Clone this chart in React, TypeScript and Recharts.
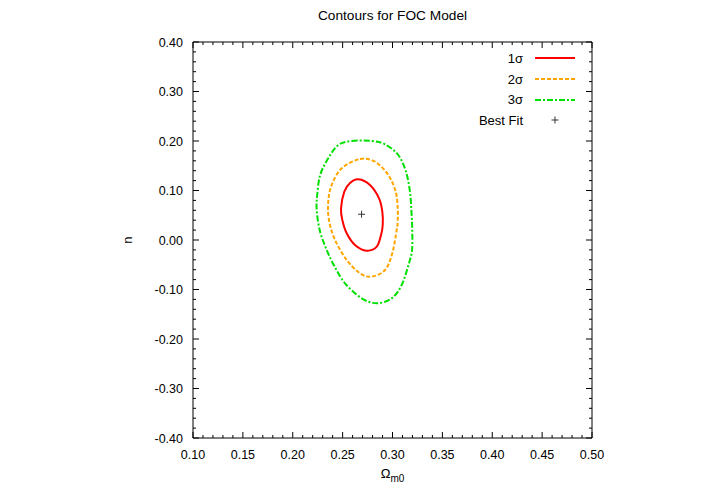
import React from 'react';
import { ScatterChart, Scatter, XAxis, YAxis, Legend, Label } from 'recharts';

// axis ticks (labelled majors); minors are every fifth between them
const xMajor = [0.1, 0.15, 0.2, 0.25, 0.3, 0.35, 0.4, 0.45, 0.5];
const yMajor = [-0.4, -0.3, -0.2, -0.1, 0.0, 0.1, 0.2, 0.3, 0.4];

// contour points (Omega_m0, n), closed loops
const sigma1 = [
  { x: 0.2657, y: 0.1226 }, { x: 0.2774, y: 0.1111 }, { x: 0.2865, y: 0.0842 },
  { x: 0.2898, y: 0.0572 }, { x: 0.2902, y: 0.0303 }, { x: 0.2885, y: 0.0101 },
  { x: 0.2842, y: -0.0135 }, { x: 0.2741, y: -0.0216 }, { x: 0.2624, y: -0.0101 },
  { x: 0.2541, y: 0.0135 }, { x: 0.2497, y: 0.0404 }, { x: 0.2484, y: 0.064 },
  { x: 0.2517, y: 0.0976 }, { x: 0.2574, y: 0.1152 }, { x: 0.2657, y: 0.1226 },
];

const sigma2 = [
  { x: 0.2674, y: 0.1636 }, { x: 0.2825, y: 0.1582 }, { x: 0.2958, y: 0.1313 },
  { x: 0.3032, y: 0.0976 }, { x: 0.3052, y: 0.064 }, { x: 0.3052, y: 0.037 },
  { x: 0.3042, y: 0.0202 }, { x: 0.2998, y: -0.0269 }, { x: 0.2925, y: -0.0606 },
  { x: 0.2791, y: -0.0741 }, { x: 0.2674, y: -0.0673 }, { x: 0.2541, y: -0.0404 },
  { x: 0.2424, y: 0.0 }, { x: 0.2363, y: 0.0404 }, { x: 0.2356, y: 0.0774 },
  { x: 0.239, y: 0.1111 }, { x: 0.2491, y: 0.1448 }, { x: 0.2674, y: 0.1636 },
];

const sigma3 = [
  { x: 0.2591, y: 0.2 }, { x: 0.2792, y: 0.2 }, { x: 0.2925, y: 0.1933 },
  { x: 0.3058, y: 0.1717 }, { x: 0.3135, y: 0.138 }, { x: 0.3175, y: 0.0976 },
  { x: 0.319, y: 0.0572 }, { x: 0.3198, y: 0.0202 }, { x: 0.3196, y: -0.0202 },
  { x: 0.3165, y: -0.0471 }, { x: 0.3092, y: -0.0909 }, { x: 0.2992, y: -0.1178 },
  { x: 0.2842, y: -0.1279 }, { x: 0.2691, y: -0.1178 }, { x: 0.2524, y: -0.0875 },
  { x: 0.241, y: -0.05 }, { x: 0.233, y: -0.015 }, { x: 0.227, y: 0.0202 },
  { x: 0.224, y: 0.0606 }, { x: 0.2245, y: 0.0909 }, { x: 0.2275, y: 0.1313 },
  { x: 0.2356, y: 0.1651 }, { x: 0.2457, y: 0.1919 }, { x: 0.2591, y: 0.2 },
];

const bestFit = [{ x: 0.269, y: 0.052 }];

const FONT = '"Liberation Sans", Arial, Helvetica, sans-serif';

const contours = [
  { name: '1σ', data: sigma1, color: '#ff0000', dash: undefined },
  { name: '2σ', data: sigma2, color: '#ffa500', dash: '4 2' },
  { name: '3σ', data: sigma3, color: '#00e000', dash: '6 2 2 2' },
];

const withMinors = (majors: number[]) => {
  const out: number[] = [];
  for (let i = 0; i < majors.length - 1; i++) {
    const step = (majors[i + 1] - majors[i]) / 5;
    for (let k = 0; k < 5; k++) out.push(Math.round((majors[i] + k * step) * 1000) / 1000);
  }
  out.push(majors[majors.length - 1]);
  return out;
};

const xTicks = withMinors(xMajor);
const yTicks = withMinors(yMajor);

const isMajor = (majors: number[], v: number) => majors.some((m) => Math.abs(m - v) < 1e-6);
const fmt = (v: number) => (Math.abs(v) < 1e-9 ? 0 : v).toFixed(2);

// smooth closed path through the scaled points (Catmull-Rom)
const closedPath = (pts: { x: number; y: number }[]) => {
  let p = pts;
  const a = p[0];
  const b = p[p.length - 1];
  if (p.length > 2 && Math.abs(a.x - b.x) < 0.01 && Math.abs(a.y - b.y) < 0.01) p = p.slice(0, -1);
  const n = p.length;
  let d = `M${p[0].x},${p[0].y}`;
  for (let i = 0; i < n; i++) {
    const p0 = p[(i - 1 + n) % n];
    const p1 = p[i];
    const p2 = p[(i + 1) % n];
    const p3 = p[(i + 2) % n];
    const c1x = p1.x + (p2.x - p0.x) / 6;
    const c1y = p1.y + (p2.y - p0.y) / 6;
    const c2x = p2.x - (p3.x - p1.x) / 6;
    const c2y = p2.y - (p3.y - p1.y) / 6;
    d += ` C${c1x},${c1y} ${c2x},${c2y} ${p2.x},${p2.y}`;
  }
  return d + ' Z';
};

const makeTick = (side: 'bottom' | 'top' | 'left' | 'right', majors: number[]) => (props: any) => {
  const { x, y, payload } = props;
  const v = payload.value;
  const major = isMajor(majors, v);
  const len = major ? 6 : 3;
  let line;
  let label = null;
  if (side === 'bottom') {
    line = <line x1={x} y1={y} x2={x} y2={y - len} stroke="#000" />;
    if (major)
      label = (
        <text x={x} y={y + 21} textAnchor="middle" fontSize={12.5} fontFamily={FONT} fill="#000">
          {fmt(v)}
        </text>
      );
  } else if (side === 'top') {
    line = <line x1={x} y1={y} x2={x} y2={y + len} stroke="#000" />;
  } else if (side === 'left') {
    line = <line x1={x} y1={y} x2={x + len} y2={y} stroke="#000" />;
    if (major)
      label = (
        <text x={x - 10} y={y + 4.5} textAnchor="end" fontSize={12.5} fontFamily={FONT} fill="#000">
          {fmt(v)}
        </text>
      );
  } else {
    line = <line x1={x} y1={y} x2={x - len} y2={y} stroke="#000" />;
  }
  return (
    <g>
      {line}
      {label}
    </g>
  );
};

const Plus = (props: any) => {
  const { cx, cy } = props;
  return (
    <g stroke="#333" strokeWidth={1}>
      <line x1={cx - 3.5} y1={cy} x2={cx + 3.5} y2={cy} />
      <line x1={cx} y1={cy - 3.5} x2={cx} y2={cy + 3.5} />
    </g>
  );
};

const renderLegend = () => (
  <div style={{ fontFamily: FONT, fontSize: 13, color: '#000' }}>
    {contours.map((c) => (
      <div key={c.name} style={{ display: 'flex', alignItems: 'center', height: 20.7 }}>
        <span style={{ width: 70, textAlign: 'right' }}>{c.name}</span>
        <svg width={40} height={10} style={{ marginLeft: 12 }}>
          <line x1={0} y1={5} x2={40} y2={5} stroke={c.color} strokeWidth={2} strokeDasharray={c.dash} />
        </svg>
      </div>
    ))}
    <div style={{ display: 'flex', alignItems: 'center', height: 20.7 }}>
      <span style={{ width: 70, textAlign: 'right' }}>Best Fit</span>
      <svg width={40} height={10} style={{ marginLeft: 12 }}>
        <line x1={16.5} y1={5} x2={23.5} y2={5} stroke="#333" />
        <line x1={20} y1={1.5} x2={20} y2={8.5} stroke="#333" />
      </svg>
    </div>
  </div>
);

const App = () => {
  return (
    <div style={{ position: 'absolute', left: 0, top: 0, width: 712, height: 498, background: '#fff' }}>
      <ScatterChart width={712} height={498} margin={{ top: 41, right: 119, bottom: 0, left: 0 }}>
        <XAxis
          type="number"
          dataKey="x"
          domain={[0.1, 0.5]}
          ticks={xTicks}
          interval={0}
          height={60}
          tickSize={0}
          tickMargin={0}
          tickLine={false}
          axisLine={{ stroke: '#000' }}
          tick={makeTick('bottom', xMajor)}
          allowDataOverflow
        >
          <Label
            content={(p: any) => {
              const vb = p.viewBox;
              return (
                <text x={vb.x + vb.width / 2} y={vb.y + 40} textAnchor="middle" fontFamily={FONT} fill="#000">
                  <tspan fontSize={13}>Ω</tspan>
                  <tspan fontSize={10} dy={4}>m0</tspan>
                </text>
              );
            }}
          />
        </XAxis>
        <XAxis
          xAxisId="top"
          orientation="top"
          type="number"
          dataKey="x"
          domain={[0.1, 0.5]}
          ticks={xTicks}
          interval={0}
          height={1}
          tickSize={0}
          tickMargin={0}
          tickLine={false}
          axisLine={{ stroke: '#000' }}
          tick={makeTick('top', xMajor)}
          allowDataOverflow
        >
          <Label
            content={(p: any) => {
              const vb = p.viewBox;
              return (
                <text x={vb.x + vb.width / 2} y={20} textAnchor="middle" fontSize={13.7} fontFamily={FONT} fill="#000">
                  Contours for FOC Model
                </text>
              );
            }}
          />
        </XAxis>
        <YAxis
          type="number"
          dataKey="y"
          domain={[-0.4, 0.4]}
          ticks={yTicks}
          interval={0}
          width={193}
          tickSize={0}
          tickMargin={0}
          tickLine={false}
          axisLine={{ stroke: '#000' }}
          tick={makeTick('left', yMajor)}
          allowDataOverflow
        >
          <Label
            content={(p: any) => {
              const vb = p.viewBox;
              const cy = vb.y + vb.height / 2;
              return (
                <text x={132} y={cy} textAnchor="middle" fontSize={13} fontFamily={FONT} fill="#000" transform={`rotate(-90 132 ${cy})`}>
                  n
                </text>
              );
            }}
          />
        </YAxis>
        <YAxis
          yAxisId="right"
          orientation="right"
          type="number"
          dataKey="y"
          domain={[-0.4, 0.4]}
          ticks={yTicks}
          interval={0}
          width={1}
          tickSize={0}
          tickMargin={0}
          tickLine={false}
          axisLine={{ stroke: '#000' }}
          tick={makeTick('right', yMajor)}
          allowDataOverflow
        />
        {contours.map((c) => (
          <Scatter
            key={c.name}
            name={c.name}
            data={c.data}
            fill={c.color}
            line={(p: any) => (
              <path
                d={closedPath(p.points)}
                fill="none"
                stroke={c.color}
                strokeWidth={2}
                strokeDasharray={c.dash}
              />
            )}
            shape={() => <g />}
            isAnimationActive={false}
          />
        ))}
        <Scatter name="Best Fit" data={bestFit} fill="#333" shape={Plus} isAnimationActive={false} />
        <Legend
          layout="horizontal"
          verticalAlign="middle"
          align="center"
          content={renderLegend}
          wrapperStyle={{ top: 48, left: 453, width: 130 }}
        />
      </ScatterChart>
    </div>
  );
};

export default App;
